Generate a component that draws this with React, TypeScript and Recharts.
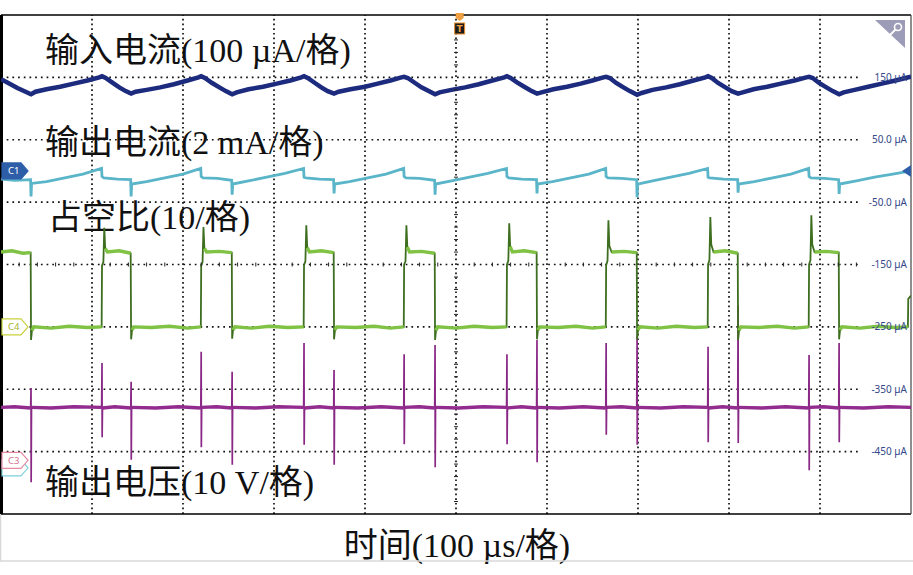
import React from 'react';
import { LineChart, Line, XAxis, YAxis, ReferenceLine, ReferenceDot, Customized } from 'recharts';

type P = [number, number];

// time axis: 0..1000 µs (10 divisions), level axis: -550..250 (8 divisions of 100)
const gridTimes = [100, 200, 300, 400, 500, 600, 700, 800, 900];
const gridLevels = [150, 50, -50, -150, -250, -350, -450];
const levelLabels = ['150 µA', '50.0 µA', '-50.0 µA', '-150 µA', '-250 µA', '-350 µA', '-450 µA'];

const traceTitles = ['输入电流(100 µA/格)', '输出电流(2 mA/格)', '占空比(10/格)', '输出电压(10 V/格)'];
const axisTitle = '时间(100 µs/格)';

// input current (navy)
const inputCurrent: P[] = [
  [0, 147], [8, 141], [18, 133], [27, 127], [33, 123],
  [38, 127], [50, 131], [65, 135], [80, 140], [95, 145], [108, 150], [111, 152],
  [115, 149], [122, 142], [130, 134], [137, 128], [143, 124],
  [148, 127], [160, 130], [175, 134], [190, 139], [205, 145], [217, 150], [220, 152],
  [224, 149], [232, 141], [240, 134], [247, 128], [254, 123],
  [259, 126], [272, 131], [288, 135], [303, 140], [318, 145], [330, 150], [333, 152],
  [337, 149], [345, 141], [352, 134], [359, 128], [366, 124],
  [371, 127], [384, 131], [400, 135], [414, 140], [428, 145], [440, 150], [443, 151],
  [447, 149], [455, 141], [462, 134], [470, 128], [477, 123],
  [482, 126], [495, 130], [510, 134], [525, 139], [540, 145], [553, 150], [556, 152],
  [560, 149], [567, 142], [575, 135], [582, 129], [589, 124],
  [594, 126], [607, 131], [622, 135], [637, 140], [650, 145], [662, 150], [665, 151],
  [669, 149], [676, 141], [684, 134], [691, 128], [699, 122],
  [704, 125], [716, 130], [731, 134], [746, 139], [761, 145], [774, 150], [777, 152],
  [781, 149], [788, 141], [796, 134], [803, 128], [810, 124],
  [815, 126], [827, 131], [842, 135], [857, 140], [872, 145], [885, 150], [888, 151],
  [892, 149], [899, 141], [907, 134], [914, 128], [921, 123],
  [926, 126], [938, 130], [953, 135], [968, 140], [983, 145], [994, 149], [1000, 151],
];

// output current (light cyan)
const outputCurrent: P[] = [
  [0, -13], [15, -15], [32.5, -14], [33, -41], [33.6, -20],
  [50, -17], [70, -11], [90, -5], [110.5, 4], [111, -9], [113, -11], [128, -13], [142.5, -14],
  [143, -41], [143.6, -21], [160, -17], [180, -11], [200, -5], [219.5, 4], [220, -9], [222, -11], [238, -12], [253.5, -15],
  [254, -38], [254.6, -21], [272, -16], [292, -10], [312, -4], [332.5, 4], [333, -10], [335, -11], [350, -13], [365.5, -14],
  [366, -36], [366.6, -21], [383, -17], [403, -11], [423, -5], [442.5, 4], [443, -9], [445, -11], [460, -12], [476.5, -15],
  [477, -38], [477.6, -21], [495, -16], [515, -10], [535, -4], [555.5, 4], [556, -9], [558, -11], [572, -13], [588.5, -14],
  [589, -36], [589.6, -21], [606, -17], [626, -11], [646, -5], [664.5, 4], [665, -9], [667, -11], [682, -12], [698.5, -14],
  [699, -42], [699.6, -21], [716, -16], [736, -10], [756, -4], [776.5, 4], [777, -10], [779, -11], [794, -13], [809.5, -14],
  [810, -35], [810.6, -21], [828, -17], [848, -11], [868, -5], [887.5, 4], [888, -9], [890, -11], [905, -12], [920.5, -14],
  [921, -37], [921.6, -21], [940, -16], [960, -10], [980, -5], [1000, 0],
];

// duty cycle (green)
const dutyCycle: P[] = [
  [0, -130], [12, -128], [24, -132], [32.6, -131],
  [33, -271], [34, -256], [36, -250], [55, -252], [75, -249], [95, -251], [110.6, -250],
  [111, -152], [112.5, -146], [113.5, -91], [114.5, -124], [117, -130], [130, -128], [142.5, -132],
  [143, -270], [144, -255], [146, -250], [165, -251], [185, -249], [205, -252], [219.6, -250],
  [220, -152], [221.5, -146], [222.5, -90], [223.5, -124], [226, -130], [240, -129], [253.6, -131],
  [254, -269], [255, -255], [257, -250], [275, -252], [295, -249], [315, -251], [332.6, -250],
  [333, -151], [334.5, -145], [335.5, -87], [336.5, -123], [339, -130], [352, -128], [365.6, -131],
  [366, -270], [367, -255], [369, -250], [390, -251], [410, -249], [428, -252], [442.6, -250],
  [443, -150], [444.5, -145], [445.5, -87], [446.5, -122], [449, -130], [462, -129], [476.6, -132],
  [477, -271], [478, -256], [480, -250], [500, -252], [520, -249], [540, -251], [555.6, -250],
  [556, -150], [557.5, -144], [558.5, -84], [559.5, -121], [562, -130], [575, -128], [588.6, -131],
  [589, -270], [590, -255], [592, -250], [612, -251], [632, -249], [650, -252], [664.6, -250],
  [665, -151], [666.5, -144], [667.5, -79], [668.5, -120], [671, -130], [685, -129], [698.6, -131],
  [699, -270], [700, -255], [702, -250], [722, -252], [742, -249], [762, -251], [776.6, -250],
  [777, -150], [778.5, -143], [779.5, -74], [780.5, -118], [783, -130], [796, -128], [809.6, -132],
  [810, -271], [811, -256], [813, -250], [833, -251], [853, -249], [872, -252], [887.6, -250],
  [888, -150], [889.5, -143], [890.5, -71], [891.5, -118], [894, -130], [907, -129], [920.6, -131],
  [921, -270], [922, -255], [924, -250], [944, -252], [964, -249], [982, -251], [996.6, -250],
  [997, -205], [1000, -200],
];

// output voltage (purple)
const outputVoltage: P[] = [
  [0, -379], [15, -378], [32.6, -380], [33, -348], [33.15, -499], [33.5, -379],
  [55, -380], [80, -378], [110.6, -379], [111, -308], [111.15, -427], [111.5, -380],
  [125, -378], [142.6, -380], [143, -338], [143.15, -463], [143.5, -379],
  [170, -380], [195, -378], [219.6, -380], [220, -290], [220.15, -443], [220.5, -379],
  [237, -378], [253.6, -380], [254, -322], [254.15, -471], [254.5, -379],
  [280, -380], [305, -378], [332.6, -379], [333, -276], [333.15, -439], [333.5, -380],
  [350, -378], [365.6, -380], [366, -319], [366.15, -471], [366.5, -379],
  [392, -380], [418, -378], [442.6, -380], [443, -294], [443.15, -438], [443.5, -379],
  [460, -378], [476.6, -380], [477, -279], [477.15, -475], [477.5, -379],
  [503, -380], [530, -378], [555.6, -379], [556, -294], [556.15, -438], [556.5, -380],
  [572, -378], [588.6, -380], [589, -271], [589.15, -467], [589.5, -379],
  [614, -380], [640, -378], [664.6, -380], [665, -276], [665.15, -423], [665.5, -379],
  [682, -378], [698.6, -380], [699, -265], [699.15, -439], [699.5, -379],
  [725, -380], [750, -378], [776.6, -379], [777, -282], [777.15, -435], [777.5, -380],
  [793, -378], [809.6, -380], [810, -216], [810.15, -436], [810.5, -379],
  [836, -380], [862, -378], [887.6, -380], [888, -295], [888.15, -480], [888.5, -379],
  [904, -378], [920.6, -380], [921, -276], [921.15, -435], [921.5, -379],
  [948, -380], [975, -378], [1000, -379],
];

const toPts = (arr: P[]) => arr.map(([t, v]) => ({ t, v }));
const navyPts = toPts(inputCurrent);
const cyanPts = toPts(outputCurrent);
const greenPts = toPts(dutyCycle);
const greenPlateau = greenPts.map((p) => ({
  t: p.t,
  v: Math.abs(p.v + 130) < 10 || Math.abs(p.v + 250) < 8 ? p.v : null,
}));
const purplePts = toPts(outputVoltage);
const purpleBase = purplePts.map((p) => ({ t: p.t, v: Math.abs(p.v + 379) < 4 ? p.v : null }));

const CJK = "'Liberation Serif', 'Noto Sans CJK SC', serif";

const Titles = () => (
  <g fontFamily={CJK} fontSize={34} fill="#111">
    <text x={45} y={62}>{traceTitles[0]}</text>
    <text x={45} y={154}>{traceTitles[1]}</text>
    <text x={48} y={229}>{traceTitles[2]}</text>
    <text x={45} y={494}>{traceTitles[3]}</text>
    <text x={457} y={557} textAnchor="middle">{axisTitle}</text>
    <line x1={0} y1={561} x2={913} y2={561} stroke="#d8d8d8" strokeWidth={1.5} />
    <line x1={0.5} y1={514} x2={0.5} y2={561} stroke="#d8d8d8" strokeWidth={1.5} />
    <polygon points="875,20 905,20 905,48" fill="#9c9cb8" />
    <circle cx={898} cy={27} r={3.5} fill="none" stroke="#fff" strokeWidth={1.6} />
    <line x1={895.5} y1={29.5} x2={886} y2={39} stroke="#fff" strokeWidth={1.8} />
  </g>
);

const chMarker = (label: string, fill: string, stroke: string, textColor: string) => (props: any) => {
  const cx = 2;
  const cy = props.cy;
  return (
    <g>
      <polygon
        points={`${cx},${cy - 8} ${cx + 19},${cy - 8} ${cx + 26},${cy} ${cx + 19},${cy + 8} ${cx},${cy + 8}`}
        fill={fill}
        stroke={stroke}
        strokeWidth={1.2}
      />
      <text x={cx + 6} y={cy + 3.5} fontSize={9.5} fontFamily="'Noto Sans', sans-serif" fill={textColor}>{label}</text>
    </g>
  );
};

const trigShape = (props: any) => {
  const cx = props.cx;
  const cy = props.cy;
  return (
    <g>
      <polygon points={`${cx - 4},${cy - 2} ${cx + 4},${cy - 2} ${cx + 4},${cy + 3} ${cx},${cy + 6} ${cx - 4},${cy + 3}`} fill="#f0a040" />
      <rect x={cx - 5} y={cy + 8} width={10} height={11} fill="#1b1b1b" stroke="#e8902a" strokeWidth={1} />
      <text x={cx} y={cy + 17} textAnchor="middle" fontSize={9} fontWeight="bold" fontFamily="'DejaVu Sans', sans-serif" fill="#f0a040">T</text>
    </g>
  );
};

// minor ticks along the centre cross-hair (5 per division)
const centreTicks = (props: any) => {
  const cx = props.cx;
  const cy = props.cy;
  const els: any[] = [];
  for (let i = -24; i <= 22; i++) {
    if (i % 5 === 0) continue;
    const x = cx + i * 18.2;
    els.push(<line key={'h' + i} x1={x} y1={cy - 2} x2={x} y2={cy + 2} stroke="#222" strokeWidth={1} />);
  }
  for (let j = -19; j <= 19; j++) {
    if (j % 5 === 0) continue;
    const y = cy + j * 12.475;
    els.push(<line key={'v' + j} x1={cx - 2} y1={y} x2={cx + 2} y2={y} stroke="#222" strokeWidth={1} />);
  }
  return <g>{els}</g>;
};

const rightArrow = (props: any) => {
  const cy = props.cy;
  return <polygon points={`911,${cy - 6} 911,${cy + 6} 902,${cy}`} fill="#2f5ea8" />;
};

const levelLabelShape = (label: string) => (props: any) => (
  <text x={907} y={props.cy + 3.5} textAnchor="end" fontSize={10} fontFamily="'Noto Sans', sans-serif" fill="#34478a">{label}</text>
);

export default function App() {
  return (
    <div style={{ position: 'absolute', left: 0, top: 0, width: 913, height: 575, background: '#fff' }}>
      <LineChart width={913} height={575} margin={{ top: 15, right: 2, bottom: 61, left: 1 }}>
        <XAxis type="number" dataKey="t" domain={[0, 1000]} hide allowDataOverflow />
        <YAxis type="number" domain={[-550, 250]} hide allowDataOverflow />
        {gridTimes.map((t) => (
          <ReferenceLine key={'gx' + t} x={t} stroke="#111" strokeWidth={1.7} strokeDasharray="1.7 3" />
        ))}
        {gridLevels.map((v) => (
          <ReferenceLine key={'gy' + v} segment={[{ x: 0, y: v }, { x: 944, y: v }]} stroke="#111" strokeWidth={1.7} strokeDasharray="1.7 4" />
        ))}
        <ReferenceDot x={500} y={-150} r={0} shape={centreTicks} />
        {gridLevels.map((v, i) => (
          <ReferenceDot key={'lb' + v} x={990} y={v} r={0} shape={levelLabelShape(levelLabels[i])} />
        ))}
        <ReferenceLine y={250} stroke="#000" strokeWidth={1.6} />
        <ReferenceLine y={-550} stroke="#000" strokeWidth={1.6} />
        <ReferenceLine x={0} stroke="#000" strokeWidth={4} />
        <ReferenceLine x={1000} stroke="#444" strokeWidth={1.2} />

        <Line data={purplePts} dataKey="v" stroke="#8a2886" strokeWidth={1.7} dot={false} activeDot={false} isAnimationActive={false} />
        <Line data={purpleBase} dataKey="v" stroke="#922c8e" strokeWidth={3.4} dot={false} activeDot={false} connectNulls={false} isAnimationActive={false} />
        <Line data={greenPts} dataKey="v" stroke="#3e6e1f" strokeWidth={1.8} dot={false} activeDot={false} isAnimationActive={false} />
        <Line data={greenPlateau} dataKey="v" stroke="#7fc244" strokeWidth={3.4} dot={false} activeDot={false} connectNulls={false} isAnimationActive={false} />
        <Line data={cyanPts} dataKey="v" stroke="#5ab5c9" strokeWidth={2.8} dot={false} activeDot={false} isAnimationActive={false} />
        <Line data={navyPts} dataKey="v" stroke="#1d2b7e" strokeWidth={4.5} dot={false} activeDot={false} isAnimationActive={false} />

        <ReferenceDot x={0} y={0} r={0} shape={chMarker('C1', '#2f5ea8', '#2f5ea8', '#ffffff')} />
        <ReferenceDot x={0} y={-250} r={0} shape={chMarker('C4', '#ffffff', '#c9d23c', '#a5b52a')} />
        <ReferenceDot x={0} y={-476} r={0} shape={chMarker('', '#ffffff', '#7fd0dc', '#7fd0dc')} />
        <ReferenceDot x={0} y={-464} r={0} shape={chMarker('C3', '#ffffff', '#e38aa4', '#d8708f')} />
        <ReferenceDot x={1000} y={0} r={0} shape={rightArrow} />
        <ReferenceDot x={504} y={250} r={0} shape={trigShape} />
        <Customized component={Titles} />
      </LineChart>
    </div>
  );
}
